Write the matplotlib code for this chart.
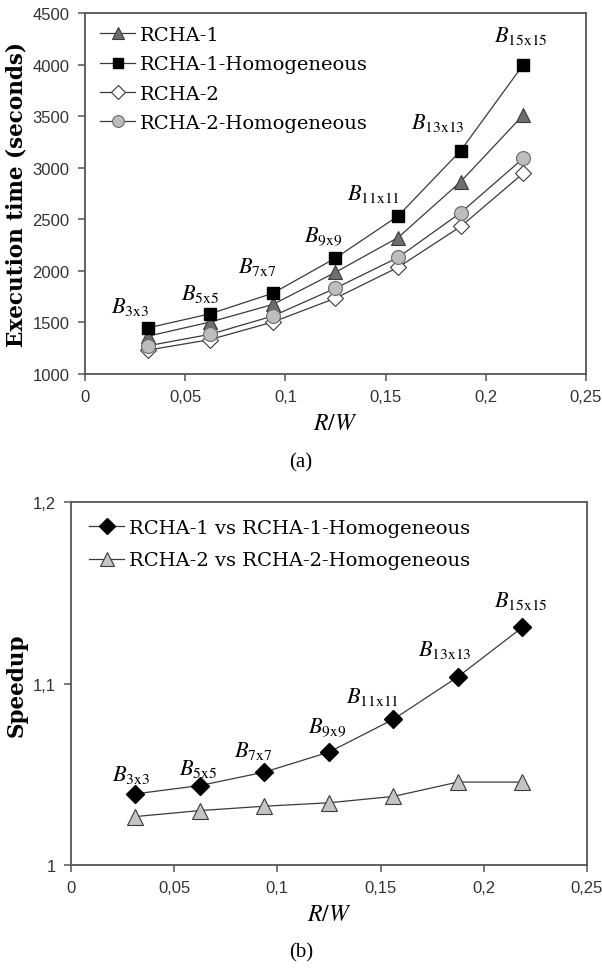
import matplotlib
matplotlib.use("Agg")
import matplotlib.pyplot as plt

# data
rw = [0.03125, 0.0625, 0.09375, 0.125, 0.15625, 0.1875, 0.21875]
block_labels = ["3x3", "5x5", "7x7", "9x9", "11x11", "13x13", "15x15"]

rcha1 = [1366, 1504, 1674, 1986, 2323, 2865, 3512]
rcha1_hom = [1446, 1584, 1783, 2124, 2532, 3166, 4000]
rcha2 = [1231, 1334, 1504, 1735, 2034, 2430, 2947]
rcha2_hom = [1273, 1385, 1562, 1832, 2130, 2564, 3092]

speedup1 = [1.0392, 1.0438, 1.0512, 1.0622, 1.0803, 1.1037, 1.131]
speedup2 = [1.0267, 1.0300, 1.0324, 1.0343, 1.0378, 1.0457, 1.0457]

x_ticks = [0, 0.05, 0.1, 0.15, 0.2, 0.25]
x_tick_labels = ["0", "0,05", "0,1", "0,15", "0,2", "0,25"]
y1_ticks = [1000, 1500, 2000, 2500, 3000, 3500, 4000, 4500]
y2_ticks = [1, 1.1, 1.2]
y2_tick_labels = ["1", "1,1", "1,2"]

# label offsets (pixels) above each top point
off_a = [(-18, 22), (-10, 21), (-16, 27), (-12, 22), (-25, 23), (-23, 29), (-2, 30)]
off_b = [(-4, 20), (-2, 18), (-11, 22), (-2, 25), (-21, 23), (-13, 28), (-2, 27)]

plt.rcParams['mathtext.fontset'] = 'stix'
SERIF = 'DejaVu Serif'
TICKFONT = 'Liberation Sans'
LINE = '#3a3a3a'
SPINE = '#555555'

fig = plt.figure(figsize=(6.02, 9.70), dpi=100)
ax1 = fig.add_axes([0.1412, 0.6134, 0.8322, 0.3722])
ax2 = fig.add_axes([0.1179, 0.1072, 0.8571, 0.3742])


def style_axes(ax):
    for s in ax.spines.values():
        s.set_color(SPINE)
        s.set_linewidth(1.3)
    ax.tick_params(direction='out', length=5, width=1.1, color=SPINE,
                   labelsize=12, labelcolor='#333333', pad=6)
    for lab in ax.get_xticklabels() + ax.get_yticklabels():
        lab.set_fontfamily(TICKFONT)


def block_text(lbl):
    return r'$\mathit{B}_{\mathrm{' + lbl + '}}$'


# (a) execution time
ax1.plot(rw, rcha1, color=LINE, lw=0.9, marker='^', ms=10, mfc='#6e6e6e', mec='#3a3a3a', mew=0.8, label='RCHA-1')
ax1.plot(rw, rcha1_hom, color=LINE, lw=0.9, marker='s', ms=9, mfc='black', mec='black', label='RCHA-1-Homogeneous')
ax1.plot(rw, rcha2, color=LINE, lw=0.9, marker='D', ms=8, mfc='white', mec='#3a3a3a', mew=0.8, label='RCHA-2')
ax1.plot(rw, rcha2_hom, color=LINE, lw=0.9, marker='o', ms=10, mfc='#bdbdbd', mec='#6a6a6a', mew=0.8, label='RCHA-2-Homogeneous')

ax1.set_xlim(0, 0.25)
ax1.set_ylim(1000, 4500)
ax1.set_xticks(x_ticks)
ax1.set_xticklabels(x_tick_labels)
ax1.set_yticks(y1_ticks)
style_axes(ax1)
ax1.set_xlabel(r'$R/W$', fontsize=17, labelpad=4)
fig.text(17 / 602, 1 - 195 / 970, 'Execution time (seconds)', rotation=90, ha='center', va='center',
         fontfamily=SERIF, fontweight='bold', fontsize=15.5)

for i, lbl in enumerate(block_labels):
    ax1.annotate(block_text(lbl), (rw[i], rcha1_hom[i]), xytext=off_a[i], textcoords='offset pixels',
                 ha='center', va='center', fontsize=16)

ax1.legend(loc='upper left', bbox_to_anchor=(0.015, 0.985), frameon=False, numpoints=1,
           prop={'family': SERIF, 'size': 14}, handlelength=1.8, handletextpad=0.25,
           labelspacing=0.58, borderaxespad=0, markerscale=0.85)
fig.text(0.5, 1 - 463 / 970, '(a)', ha='center', va='center', fontfamily='Liberation Serif', fontsize=15)

# (b) speedup
ax2.plot(rw, speedup1, color=LINE, lw=0.9, marker='D', ms=9, mfc='black', mec='black',
         label='RCHA-1 vs RCHA-1-Homogeneous')
ax2.plot(rw, speedup2, color=LINE, lw=0.9, marker='^', ms=12, mfc='#c4c4c4', mec='#3a3a3a', mew=0.8,
         label='RCHA-2 vs RCHA-2-Homogeneous')

ax2.set_xlim(0, 0.25)
ax2.set_ylim(1, 1.2)
ax2.set_xticks(x_ticks)
ax2.set_xticklabels(x_tick_labels)
ax2.set_yticks(y2_ticks)
ax2.set_yticklabels(y2_tick_labels)
style_axes(ax2)
ax2.set_xlabel(r'$R/W$', fontsize=17, labelpad=4)
fig.text(17 / 602, 1 - 685 / 970, 'Speedup', rotation=90, ha='center', va='center',
         fontfamily=SERIF, fontweight='bold', fontsize=15.5)

for i, lbl in enumerate(block_labels):
    ax2.annotate(block_text(lbl), (rw[i], speedup1[i]), xytext=off_b[i], textcoords='offset pixels',
                 ha='center', va='center', fontsize=16)

ax2.legend(loc='upper left', bbox_to_anchor=(0.02, 0.975), frameon=False, numpoints=1,
           prop={'family': SERIF, 'size': 14}, handlelength=1.8, handletextpad=0.25,
           labelspacing=0.75, borderaxespad=0, markerscale=0.85)
fig.text(0.5, 1 - 953 / 970, '(b)', ha='center', va='center', fontfamily='Liberation Serif', fontsize=15)

fig.savefig('out.png', dpi=100)
